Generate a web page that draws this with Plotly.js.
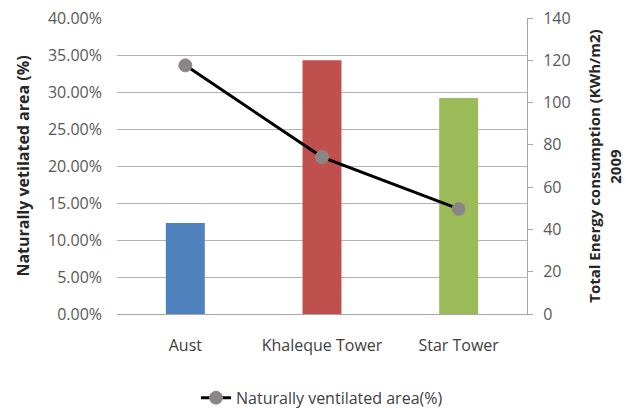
<!DOCTYPE html>
<html>
<head>
<meta charset="utf-8">
<script src="https://cdn.plot.ly/plotly-3.0.1.min.js"></script>
<style>html,body{margin:0;padding:0;background:#fff;}#chart{width:626px;height:408px;}</style>
</head>
<body>
<div id="chart"></div>
<script>
const categories = ["Aust", "Khaleque Tower", "Star Tower"];
const energy = [43, 120, 102.2];            // Total Energy consumption (KWh/m2) 2009
const ventilated = [0.336, 0.212, 0.142];   // Naturally ventilated area (%)
const barColors = ["#4F81BD", "#C0504D", "#9BBB59"];
const leftTicks = [0, 0.05, 0.10, 0.15, 0.20, 0.25, 0.30, 0.35, 0.40];
const rightTicks = [0, 20, 40, 60, 80, 100, 120, 140];

const font = "Open Sans, Lato, sans-serif";

const traces = [
  {
    type: "bar",
    x: categories,
    y: energy,
    yaxis: "y",
    marker: { color: barColors },
    width: 0.285,
    showlegend: false,
    hoverinfo: "x+y"
  },
  {
    type: "scatter",
    mode: "lines+markers",
    x: categories,
    y: ventilated,
    yaxis: "y2",
    name: "Naturally ventilated area(%)",
    line: { color: "#000000", width: 3 },
    marker: { color: "#878787", size: 13, line: { color: "#a08585", width: 1 } }
  }
];

const layout = {
  width: 626,
  height: 408,
  margin: { l: 117, r: 99, t: 18, b: 94, autoexpand: false },
  paper_bgcolor: "#ffffff",
  plot_bgcolor: "#ffffff",
  font: { family: font, size: 16, color: "#595959" },
  showlegend: true,
  legend: {
    orientation: "h",
    x: 0.5, xanchor: "center",
    yref: "container",
    y: 0.025, yanchor: "middle",
    font: { family: font, size: 16, color: "#404040" }
  },
  xaxis: {
    type: "category",
    range: [-0.5, 2.5],
    showgrid: false,
    showline: true,
    linecolor: "#a6a6a6",
    linewidth: 1,
    ticks: "",
    tickfont: { family: font, size: 16, color: "#404040" },
    ticklabelstandoff: 17
  },
  yaxis: {
    side: "right",
    range: [0, 140],
    tickvals: rightTicks,
    ticktext: rightTicks.map(String),
    showgrid: false,
    zeroline: false,
    showline: true,
    linecolor: "#a6a6a6",
    ticks: "outside",
    ticklen: 5,
    tickcolor: "#a6a6a6",
    ticklabelstandoff: 7,
    tickfont: { family: font, size: 16, color: "#595959" },
    title: {
      text: "<b>Total Energy consumption (KWh/m2)</b>",
      font: { family: font, size: 15, color: "#262626" },
      standoff: 19
    }
  },
  yaxis2: {
    overlaying: "y",
    side: "left",
    range: [0, 0.4],
    tickvals: leftTicks,
    tickformat: ".2%",
    showgrid: true,
    gridcolor: "#b3b3b3",
    gridwidth: 1,
    zeroline: false,
    showline: false,
    ticks: "",
    ticklabelstandoff: 14,
    tickfont: { family: font, size: 16, color: "#595959" },
    title: {
      text: "<b>Naturally vetilated area (%)</b>",
      font: { family: font, size: 16, color: "#262626" },
      standoff: 14
    }
  },
  annotations: [
    {
      text: "<b>2009</b>",
      xref: "paper", yref: "paper",
      x: 1.214, y: 0.5,
      xanchor: "center", yanchor: "middle",
      textangle: -90,
      showarrow: false,
      font: { family: font, size: 15, color: "#262626" }
    }
  ]
};

Plotly.newPlot("chart", traces, layout, { displayModeBar: false, staticPlot: true });
</script>
</body>
</html>
